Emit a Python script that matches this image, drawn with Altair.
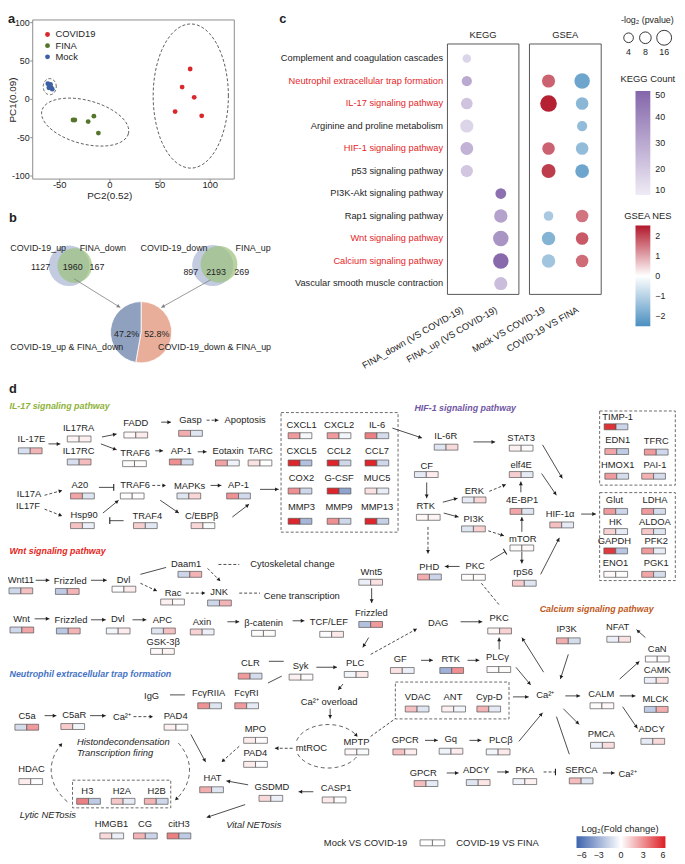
import math
import numpy as np
import pandas as pd
import altair as alt

FONT = "Liberation Sans"
W, H = 677, 856
INK = "#1e1e1e"

# ---------------- panel a : PCA ----------------
pca_group = ["COVID19"] * 5 + ["FINA"] * 5 + ["Mock"] * 6
pca_pc2 = [80.0, 72.0, 84.0, 65.0, 91.5, -36.8, -35.0, -21.7, -16.0, -11.5, -61.9, -60.2, -58.5, -57.5, -60.9, -59.2]
pca_pc1 = [39.6, 16.0, 2.6, -16.0, -21.5, -27.0, -27.0, -29.0, -22.0, -44.0, 20.3, 17.2, 15.1, 13.3, 15.1, 19.4]
pca_groups = ["COVID19", "FINA", "Mock"]
pca_xticks = [-50, 0, 50, 100]
pca_yticks = [-100, -50, 0, 50, 100]
ell_center_pc2 = [80.6, -24.7, -60.0]
ell_center_pc1 = [4.3, -29.7, 16.5]
ell_axis1 = [(37.5, 0.0), (43.1, -15.1), (6.5, 0.0)]
ell_axis2 = [(0.0, 94.0), (-5.6, -27.4), (0.0, 10.5)]
PCA_COLORS = ["#D9282B", "#54752A", "#3D5FA5"]

# ---------------- panel b : Venn + pie ----------------
venn_left_sets = ["COVID-19_up", "FINA_down"]
venn_left_counts = [1127, 1960, 167]
venn_right_sets = ["COVID-19_down", "FINA_up"]
venn_right_counts = [897, 2193, 269]
pie_labels = ["COVID-19_down & FINA_up", "COVID-19_up & FINA_down"]
pie_pct = [52.8, 47.2]

# ---------------- panel c : enrichment dot plot ----------------
pathways = ["Complement and coagulation cascades", "Neutrophil extracellular trap formation",
            "IL-17 signaling pathway", "Arginine and proline metabolism", "HIF-1 signaling pathway",
            "p53 signaling pathway", "PI3K-Akt signaling pathway", "Rap1 signaling pathway",
            "Wnt signaling pathway", "Calcium signaling pathway", "Vascular smooth muscle contraction"]
highlight = [False, True, True, False, True, False, False, False, True, True, False]
kegg_cols = ["FINA_down (VS COVID-19)", "FINA_up (VS COVID-19)"]
gsea_cols = ["Mock VS COVID-19", "COVID-19 VS FINA"]
kegg_pathway = pathways
kegg_column = [kegg_cols[0]] * 6 + [kegg_cols[1]] * 5
kegg_count = [17, 30, 22, 17, 27, 21, 47, 32, 36, 49, 24]
kegg_logp = [2.1, 5.1, 8.0, 11.4, 10.8, 9.4, 6.2, 12.1, 17.7, 17.7, 11.4]
gsea_pathway = [pathways[i] for i in [1, 2, 4, 5, 7, 8, 9]] + [pathways[i] for i in [1, 2, 3, 4, 5, 7, 8, 9]]
gsea_column = [gsea_cols[0]] * 7 + [gsea_cols[1]] * 8
gsea_nes = [1.7, 2.4, 1.7, 2.1, -1.2, -1.7, -1.3, -2.0, -1.6, -1.5, -1.5, -2.0, 1.5, 1.8, 1.6]
gsea_logp = [11.4, 21.1, 10.0, 13.6, 4.0, 12.1, 12.1, 17.7, 10.0, 5.1, 10.0, 13.0, 10.0, 10.0, 10.0]
size_legend_values = [4, 8, 16]

# ---------------- panel d : pathway map (log2 fold change) ----------------
d_genes = ["IL-17E", "IL17RA", "IL17RC", "FADD", "Gasp", "TRAF6", "AP-1", "Eotaxin", "TARC", "A20", "TRAF6",
           "MAPKs", "AP-1", "Hsp90", "TRAF4", "C/EBPβ",
           "CXCL1", "CXCL2", "IL-6", "CXCL5", "CCL2", "CCL7", "COX2", "G-CSF", "MUC5", "MMP3", "MMP9", "MMP13",
           "IL-6R", "STAT3", "CF", "elf4E", "ERK", "RTK", "4E-BP1", "PI3K", "mTOR", "HIF-1α", "rpS6", "PKC", "PHD",
           "TIMP-1", "EDN1", "TFRC", "HMOX1", "PAI-1", "Glut", "LDHA", "HK", "ALDOA", "GAPDH", "PFK2", "ENO1", "PGK1",
           "Daam1", "Wnt11", "Frizzled", "Dvl", "Rac", "JNK", "Wnt", "Frizzled", "Dvl", "APC", "GSK-3β", "Axin",
           "β-catenin", "TCF/LEF", "Wnt5", "Frizzled",
           "CLR", "Syk", "FcγRIIA", "FcγRI", "C5a", "C5aR", "PAD4", "MPO", "PAD4", "HAT", "GSDMD", "CASP1", "HDAC",
           "H3", "H2A", "H2B", "HMGB1", "CG", "citH3",
           "PKC", "IP3K", "NFAT", "CaN", "GF", "RTK", "PLCγ", "PLC", "CAMK", "MLCK", "ADCY", "CALM", "PMCA",
           "VDAC", "ANT", "Cyp-D", "MPTP", "GPCR", "Gq", "PLCβ", "GPCR", "ADCY", "PKA", "SERCA"]
d_mock = [-1.2, 0.3, -1.2, 0.2, 2.2, 0.1, 3.0, 2.5, 0.8, 2.4, 0.1, -1.0, 2.9, 1.6, 1.3, 1.1,
          2.7, 2.7, 3.4, 5.8, 5.8, 5.8, 3.0, 5.8, 0.8, 5.8, 3.0, 5.8,
          -1.0, 0.4, -0.8, 1.3, -0.8, 0.2, 2.4, -1.0, 0.1, 1.7, 1.4, 0.1, 2.2,
          5.5, 2.4, 2.7, 2.7, 2.1, 2.7, 2.7, 1.2, 1.5, 5.3, 2.7, 0.2, 2.4,
          -1.6, -1.5, -2.0, -0.1, 0.4, -1.5, -1.5, -2.1, -0.4, -1.0, 0.2, 1.2, 0.1, -0.1, -0.6, -2.4,
          2.7, 0.4, 2.9, 2.7, -1.3, 1.4, 0.4, 0.5, 0.5, 2.2, 1.0, 0.6, 0.5, 3.4, 1.5, 2.0, 1.0, 2.0, 3.4,
          0.3, 2.2, -0.6, 0.1, 0.8, -3.0, 0.1, -0.4, -0.6, -2.0, -0.8, 0.1, -0.6,
          1.7, 0.4, 2.0, 0.2, 1.7, -0.5, -0.4, 1.8, -1.0, -0.5, 1.8]
d_fina = [2.0, 0.4, 1.8, 0.5, -1.0, 0.1, -1.4, -0.5, 0.0, -1.0, 0.05, 1.1, -1.4, -0.6, -0.9, -0.2,
          -0.3, -0.4, -1.3, -2.4, -1.5, -1.5, -1.5, -3.5, -0.7, -2.8, -1.5, -1.8,
          1.0, 0.1, 0.5, -0.8, 1.1, 0.3, -1.0, 1.2, 0.2, -0.8, -1.0, 0.1, -1.6,
          -1.6, -2.0, -1.5, -1.3, -1.3, -1.6, -1.3, -0.8, -1.0, -2.2, -0.7, 0.1, -1.3,
          2.0, 1.7, 2.0, 0.5, 0.1, 2.0, 2.4, 2.0, 0.5, 1.7, 0.3, -0.6, 0.1, 0.6, 0.8, 2.7,
          -1.3, 0.1, -1.0, -0.8, 2.7, -0.4, -0.1, 0.1, -0.1, -1.0, -0.6, 0.1, -0.1, -2.0, -0.8, -1.5, -0.6, -1.6, -2.0,
          1.2, -1.3, 0.8, 0.1, -0.6, 3.0, 0.1, 0.6, 0.8, 2.2, 1.0, 0.2, 0.9,
          -1.0, -0.4, -0.8, -0.2, 0.5, 0.5, 0.6, -0.8, 0.7, 0.4, -1.0]

# ---------------- layout (page pixels): label x, label y, box x, box y ----------------
d_layout = [(31.7, 439, 30.5, 451), (79.5, 428, 80, 439), (79.5, 451.7, 80, 462.3), (137.3, 422.7, 137.3, 435),
            (192.7, 420, 192.7, 433.3), (136.7, 453.3, 136, 464), (183.3, 451.7, 183.3, 462.3),
            (230.7, 451, 230, 463.3), (263.3, 451, 263, 463.3), (80.7, 486, 83.3, 496.7),
            (136.7, 486, 133.7, 496.7), (191.7, 486.7, 191, 496.7), (241.3, 485.7, 241.3, 496.7),
            (85, 515.7, 83.3, 526.7), (149, 517.3, 147, 526.7), (204, 517.3, 205.3, 526.7),
            (305, 425, 303.5, 435.7), (343, 425, 343, 435.7), (381.5, 425, 381.3, 435.7),
            (305, 451, 303.5, 463.3), (343, 451, 343, 463.3), (381.5, 451, 381.3, 463.3),
            (305, 479, 303.5, 491.7), (343, 479, 343, 491.7), (381.5, 479, 381.3, 491.7),
            (305, 508.3, 303.5, 522.3), (343, 508.3, 343, 522.3), (381.5, 508.3, 381.3, 522.3),
            (451, 436, 451.3, 447.3), (527.3, 437.7, 527.3, 448.3), (431.7, 466, 431.3, 475),
            (527.3, 465, 527.3, 475), (480, 491.7, 479.7, 500.7), (430.7, 507, 433.3, 518.3),
            (528.3, 500.7, 528, 512.3), (479.3, 520, 479, 530), (529, 540, 528, 549.3),
            (566.7, 515, 568.3, 526), (529.3, 573.3, 530.5, 585), (480.7, 567.7, 479, 579),
            (434.3, 568.7, 434.5, 578.7),
            (625, 416.7, 623.3, 426.7), (625, 440, 624, 451.7), (664, 440.7, 664, 452.3),
            (625, 465.7, 624, 476.7), (662.7, 465.7, 661.3, 476.7), (621.7, 500.7, 623, 512.3),
            (662.7, 500.7, 661.3, 512.3), (622.7, 523.3, 623, 532.7), (662.7, 523.3, 661.3, 532.7),
            (621.7, 542.7, 623, 552.3), (664, 542.7, 661.3, 552.3), (622.7, 564.3, 623, 576),
            (664, 564.3, 661.3, 576),
            (188.3, 565.7, 192, 576), (21, 581.7, 21, 592.7), (71, 582.7, 68, 593.3), (125, 581.7, 125.3, 591),
            (175, 595, 174.5, 604), (221.7, 594.3, 222, 605), (21.7, 621.7, 22, 632.3),
            (71.7, 622.7, 69, 633.3), (119, 621.7, 119.5, 633.3), (164.3, 622.7, 165.3, 633.3),
            (165, 644.3, 164.3, 654), (204.3, 624, 204.5, 634.3), (266.7, 625.7, 266.5, 635.7),
            (332.7, 624.3, 335.5, 636.7), (375.7, 574, 375, 584), (375.7, 615, 375, 626.7),
            (253.3, 666, 253, 679), (304, 669, 304.5, 680), (211, 696, 212, 709), (249.3, 696, 249.5, 709),
            (27.3, 719, 27, 730.7), (75, 718.3, 73.5, 730), (177.7, 719, 178, 730.7),
            (258.3, 732.7, 258.5, 744), (258.3, 756.7, 258.5, 768.3), (215, 781.7, 214, 794),
            (275, 791.7, 274, 802.7), (340, 792.7, 338, 804.3), (31.7, 773.3, 31, 785.7),
            (88.3, 795, 89.5, 805.7), (123.3, 795, 124.5, 805.7), (158.3, 795, 158, 805.7),
            (112.7, 828.3, 113, 840.7), (146.7, 828.3, 147, 840.7), (181, 828.3, 181, 840.7),
            (505, 620.7, 505.5, 633.3), (573.3, 631, 575, 643.3), (625, 629.3, 626, 641.7),
            (665, 651.7, 665, 661.7), (405, 661.7, 407, 673.3), (456, 661.7, 457, 673.3),
            (503.3, 660, 504.7, 672.3), (359.3, 665.7, 360.3, 677.3), (665, 673.3, 664, 683.3),
            (663.3, 701.7, 664, 712.7), (659.3, 732.7, 660.5, 745), (608.3, 697.3, 609, 709),
            (608.3, 737.7, 609.5, 749), (422.7, 700, 422, 712.3), (458.3, 700, 459, 712.3),
            (495, 700, 494.5, 712.3), (360.7, 746, 361, 755.7), (410, 743.3, 409.5, 755.7),
            (456, 742.3, 456.3, 755), (506.7, 743.3, 504, 755.7), (428.3, 776.7, 431, 787.7),
            (481.7, 774.3, 483.8, 786.7), (531, 774.3, 531, 785.7), (588.3, 774.3, 588, 785)]

edges = [
    (49, 444, 61, 444, "arrow"), (103, 437, 118, 434, "arrow"), (102, 444, 118, 450, "arrow"),
    (163, 422, 173, 422, "arrow"), (209, 420, 221, 420, "dash_arrow"), (157, 451, 165, 451, "arrow"),
    (200, 452, 209, 452, "arrow"), (45, 496, 63, 491, "dash_arrow"), (100, 488, 115, 488, "inhibit"),
    (154, 486, 168, 486, "dash_arrow"), (213, 486, 224, 486, "arrow"), (263, 490, 282, 490, "arrow"),
    (45, 510, 63, 517, "dash_arrow"), (104, 514, 120, 501, "arrow"), (125, 521.7, 111, 521.7, "inhibit"),
    (162, 501, 181, 514, "arrow"), (235, 518, 252, 505, "arrow"),
    (397, 428, 427, 438, "arrow"), (479, 442, 501, 442, "arrow"), (549, 445, 569, 479, "arrow"),
    (431.7, 483, 431.7, 499, "arrow"), (548, 474, 563, 496, "arrow"), (495, 492, 512, 485, "dash_arrow"),
    (448, 503, 463, 499, "arrow"), (527, 493, 527, 482, "arrow"), (449, 514, 464, 518, "arrow"),
    (494, 532, 510, 537, "dash_arrow"), (528, 533, 528, 518, "arrow"), (528, 553, 528, 565, "arrow"),
    (588, 515, 603, 515, "arrow"), (547, 576, 566, 539, "arrow"), (496, 562, 511, 553, "inhibit"),
    (465, 568, 450, 568, "arrow"), (433, 528, 433, 555, "dash_arrow"), (487, 585, 506, 608, "dash"),
    (221, 566, 242, 566, "dash"), (36, 582, 50, 582, "arrow"), (92, 582, 108, 582, "arrow"),
    (142, 576, 168, 569, "line"), (142, 585, 159, 593, "dash_arrow"), (210, 570, 223, 583, "dash_arrow"),
    (188, 595, 208, 595, "dash_arrow"), (242, 595, 263, 595, "dash"), (35, 621, 50, 621, "arrow"),
    (92, 622, 107, 622, "arrow"), (134, 622, 148, 622, "arrow"), (230, 624, 242, 624, "arrow"),
    (296, 623, 308, 623, "arrow"), (376, 590, 376, 605, "arrow"), (373, 640, 367, 650, "arrow"),
    (272, 664, 287, 664, "line"), (320, 670, 341, 670, "arrow"), (271, 686, 285, 679, "line"),
    (172, 698, 187, 698, "line"), (45, 719, 57, 719, "arrow"), (91, 719, 107, 719, "arrow"),
    (135, 720, 155, 720, "dash_arrow"), (193, 738, 208, 766, "arrow"), (242, 750, 224, 766, "dash_arrow"),
    (296, 752, 278, 752, "dash_arrow"), (251, 789, 229, 785, "arrow"), (317, 796, 302, 796, "arrow"),
    (248, 809, 209, 822, "arrow"), (347, 687, 342, 693, "arrow"), (334, 712, 334, 722, "arrow"),
    (375, 740, 400, 722, "dash"),
    (375, 657, 422, 631, "dash_arrow"), (466, 624, 488, 624, "arrow"), (505, 652, 505, 640, "arrow"),
    (550, 675, 528, 640, "arrow"), (575, 657, 567, 682, "arrow"), (653, 640, 644, 632, "arrow"),
    (426, 663, 438, 663, "arrow"), (473, 663, 485, 663, "arrow"), (522, 670, 537, 688, "arrow"),
    (519, 700, 535, 700, "arrow"), (572, 699, 587, 699, "arrow"), (627, 682, 647, 664, "arrow"),
    (627, 699, 643, 699, "arrow"), (630, 710, 645, 732, "arrow"), (570, 712, 586, 728, "arrow"),
    (563, 720, 576, 758, "line"), (525, 745, 549, 716, "arrow"), (430, 744, 443, 744, "arrow"),
    (475, 744, 487, 744, "arrow"), (452, 777, 464, 777, "arrow"), (503, 776, 515, 776, "arrow"),
    (550, 776, 562, 776, "dash_inhibit"), (610, 777, 622, 777, "arrow"),
]
venn_edges = [(75, 277, 121.7, 306, "arrow"), (213, 278, 163, 306, "arrow")]

# ================= helpers =================
LX = alt.Scale(domain=[8, 8 + W], range=[0, W], nice=False, zero=False)
LY = alt.Scale(domain=[8, 8 + H], range=[0, H], nice=False, zero=False)


def ex(f="x"):
    return alt.X(f + ":Q", scale=LX, axis=None)


def ey(f="y"):
    return alt.Y(f + ":Q", scale=LY, axis=None)


def texts(rows, size=9.5, weight="normal", style="normal", align="center", color=INK, angle=0,
          baseline="middle"):
    df = pd.DataFrame(rows, columns=["x", "y", "t"])
    return alt.Chart(df).mark_text(font=FONT, fontSize=size, fontWeight=weight, fontStyle=style,
                                   align=align, baseline=baseline, color=color, angle=angle).encode(
        x=ex(), y=ey(), text="t:N")


def edge_layers(elist, color=INK, width=0.8):
    segs, heads, bars = [], [], []
    for (x1, y1, x2, y2, kind) in elist:
        L = math.hypot(x2 - x1, y2 - y1)
        ux, uy = (x2 - x1) / L, (y2 - y1) / L
        ang = math.degrees(math.atan2(y2 - y1, x2 - x1)) % 360
        segs.append(dict(x=x1, y=y1, x2=x2, y2=y2, d=kind.startswith("dash")))
        if kind.endswith("arrow"):
            heads.append(dict(x=x2 - 2.0 * ux, y=y2 - 2.0 * uy, ang=ang))
        elif kind.endswith("inhibit"):
            bars.append(dict(x=x2, y=y2, ang=(ang + 90) % 360))
    sdf = pd.DataFrame(segs)
    out = []
    solid = sdf[~sdf.d]
    dashed = sdf[sdf.d]
    if len(solid):
        out.append(alt.Chart(solid).mark_rule(color=color, strokeWidth=width).encode(
            x=ex(), y=ey(), x2="x2:Q", y2="y2:Q"))
    if len(dashed):
        out.append(alt.Chart(dashed).mark_rule(color=color, strokeWidth=width, strokeDash=[3, 2]).encode(
            x=ex(), y=ey(), x2="x2:Q", y2="y2:Q"))
    if heads:
        out.append(alt.Chart(pd.DataFrame(heads)).mark_point(shape="triangle-right", filled=True, size=16,
                                                             color=color, opacity=1).encode(
            x=ex(), y=ey(), angle=alt.Angle("ang:Q", scale=None)))
    if bars:
        out.append(alt.Chart(pd.DataFrame(bars)).mark_point(shape="stroke", filled=False, size=45,
                                                            color=color, strokeWidth=1.1, opacity=1).encode(
            x=ex(), y=ey(), angle=alt.Angle("ang:Q", scale=None)))
    return out


# ================= panel a =================
dfA = pd.DataFrame({"group": pca_group, "PC2": pca_pc2, "PC1": pca_pc1})
sxA = alt.Scale(domain=[-77, 124], range=[25, 229], nice=False, zero=False)
syA = alt.Scale(domain=[-104, 103.5], range=[168, 7], nice=False, zero=False)
ell_rows = []
for g, cx, cy, a1, a2 in zip(pca_groups, ell_center_pc2, ell_center_pc1, ell_axis1, ell_axis2):
    for k, t in enumerate(np.linspace(0, 2 * np.pi, 91)):
        ell_rows.append(dict(g=g, k=k, PC2=cx + a1[0] * np.cos(t) + a2[0] * np.sin(t),
                             PC1=cy + a1[1] * np.cos(t) + a2[1] * np.sin(t)))
ellA = alt.Chart(pd.DataFrame(ell_rows)).mark_line(color="#333", strokeWidth=0.8, strokeDash=[3, 2]).encode(
    x=alt.X("PC2:Q", scale=sxA, axis=None), y=alt.Y("PC1:Q", scale=syA, axis=None), detail="g:N", order="k:Q")
ptsA = alt.Chart(dfA).mark_circle(size=24, opacity=1).encode(
    x=alt.X("PC2:Q", scale=sxA, axis=None),
    y=alt.Y("PC1:Q", scale=syA, axis=None),
    color=alt.Color("group:N", scale=alt.Scale(domain=pca_groups, range=PCA_COLORS), legend=None))
xt = pd.DataFrame({"PC2": pca_xticks, "t": [str(v) for v in pca_xticks]})
yt = pd.DataFrame({"PC1": pca_yticks, "t": [str(v) for v in pca_yticks]})
xtick = alt.Chart(xt).mark_rule(color="#8c8c8c", strokeWidth=1).encode(
    x=alt.X("PC2:Q", scale=sxA, axis=None), y=alt.value(168), y2=alt.value(171.5))
xlab = alt.Chart(xt).mark_text(font=FONT, fontSize=9.5, color=INK, baseline="middle").encode(
    x=alt.X("PC2:Q", scale=sxA, axis=None), y=alt.value(174), text="t:N")
ytick = alt.Chart(yt).mark_rule(color="#8c8c8c", strokeWidth=1).encode(
    y=alt.Y("PC1:Q", scale=syA, axis=None), x=alt.value(22.5), x2=alt.value(25))
ylabA = alt.Chart(yt).mark_text(font=FONT, fontSize=9, color=INK, align="right", baseline="middle").encode(
    y=alt.Y("PC1:Q", scale=syA, axis=None), x=alt.value(22), text="t:N")
panelA = alt.layer(ellA, ptsA, xtick, xlab, ytick, ylabA)

# ================= panel c =================
SIZE = alt.Scale(domain=[4, 16], range=[95, 227], zero=False)
YPT = alt.Scale(type="point", domain=pathways, range=[46, 273.7], padding=0)
XK = alt.Scale(type="point", domain=kegg_cols, range=[464.3, 498.7], padding=0)
XG = alt.Scale(type="point", domain=gsea_cols, range=[547, 581], padding=0)
leg_common = dict(orient="none", title=None, direction="vertical", labelFont=FONT, labelFontSize=9,
                  labelColor=INK, gradientThickness=15, gradientStrokeWidth=0, labelOffset=5)
kegg_df = pd.DataFrame({"pathway": kegg_pathway, "col": kegg_column, "count": kegg_count, "logp": kegg_logp})
gsea_df = pd.DataFrame({"pathway": gsea_pathway, "col": gsea_column, "nes": gsea_nes, "logp": gsea_logp})
kegg_dots = alt.Chart(kegg_df).mark_circle(opacity=1).encode(
    x=alt.X("col:N", scale=XK, axis=None), y=alt.Y("pathway:N", scale=YPT, axis=None),
    fill=alt.Fill("count:Q", scale=alt.Scale(domain=[10, 50], range=["#EFEBF5", "#8466AA"], interpolate="rgb"),
                  legend=alt.Legend(legendX=635, legendY=79, gradientLength=105, values=[10, 20, 30, 40, 50],
                                    **leg_common)),
    size=alt.Size("logp:Q", scale=SIZE, legend=None))
ylab = alt.Chart(pd.DataFrame({"pathway": pathways, "hl": highlight})).mark_text(
    font=FONT, fontSize=9.4, align="right", baseline="middle").encode(
    x=alt.value(440.3), y=alt.Y("pathway:N", scale=YPT, axis=None), text="pathway:N",
    color=alt.condition("datum.hl", alt.value("#E5262A"), alt.value(INK)))
xlab_k = alt.Chart(pd.DataFrame({"col": kegg_cols})).mark_text(
    font=FONT, fontSize=9.4, align="right", baseline="middle", angle=330, dx=-5, color=INK).encode(
    x=alt.X("col:N", scale=XK, axis=None), y=alt.value(297), text="col:N")
kegg_g = alt.layer(kegg_dots, ylab, xlab_k)
gsea_dots = alt.Chart(gsea_df).mark_circle(opacity=1).encode(
    x=alt.X("col:N", scale=XG, axis=None), y=alt.Y("pathway:N", scale=YPT, axis=None),
    color=alt.Color("nes:Q", scale=alt.Scale(domain=[-2.5, 0, 2.5], range=["#4A8FC0", "#FFFFFF", "#B2182B"],
                                             interpolate="rgb"),
                    legend=alt.Legend(legendX=635, legendY=215, gradientLength=102, values=[-2, -1, 0, 1, 2],
                                      **leg_common)),
    size=alt.Size("logp:Q", scale=SIZE, legend=None))
xlab_g = alt.Chart(pd.DataFrame({"col": gsea_cols})).mark_text(
    font=FONT, fontSize=9.4, align="right", baseline="middle", angle=330, dx=-5, color=INK).encode(
    x=alt.X("col:N", scale=XG, axis=None), y=alt.value(297), text="col:N")
gsea_g = alt.layer(gsea_dots, xlab_g)
sl_df = pd.DataFrame({"v": size_legend_values, "x": [636, 653, 672], "y": [33, 33, 33],
                      "ty": [47, 47, 47], "t": [str(v) for v in size_legend_values]})
sl_pts = alt.Chart(sl_df).mark_point(shape="circle", filled=False, color=INK, strokeWidth=0.9, opacity=1).encode(
    x=ex(), y=ey(), size=alt.Size("v:Q", scale=SIZE, legend=None))
sl_txt = alt.Chart(sl_df).mark_text(font=FONT, fontSize=9, color=INK).encode(x=ex(), y=ey("ty"), text="t:N")
size_g = alt.layer(sl_pts, sl_txt)
panelC = alt.layer(kegg_g, gsea_g, size_g).resolve_scale(x="independent", y="independent")

# ================= rest (layout layers) =================
rest = []
rest.append(texts([(11.5, 8, "a"), (286, 8, "c")], size=13, weight="bold", baseline="top"))
rest.append(texts([(13, 215, "b"), (13, 388, "d")], size=13, weight="bold"))

# panel a frame, titles and legend
frameA = pd.DataFrame({"x": [33], "x2": [237], "y": [15], "y2": [176]})
rest.append(alt.Chart(frameA).mark_rect(fill="white", fillOpacity=0, stroke="#8c8c8c", strokeWidth=1).encode(
    x=ex(), x2="x2:Q", y=ey(), y2="y2:Q"))
rest.append(texts([(111, 193.5, "PC2(0.52)")], size=10))
rest.append(texts([(13.5, 96, "PC1(0.09)")], size=10, angle=270))
legA = pd.DataFrame({"x": [48, 48, 48], "y": [29.7, 41, 52.3], "c": PCA_COLORS})
rest.append(alt.Chart(legA).mark_circle(size=24, opacity=1).encode(x=ex(), y=ey(),
                                                                  color=alt.Color("c:N", scale=None)))
rest.append(texts([(56, 29.7, pca_groups[0]), (56, 41, pca_groups[1]), (56, 52.3, pca_groups[2])],
                  align="left"))

# panel b
venn_df = pd.DataFrame({"x": [69.8, 75.5, 215.2, 221.5], "y": [263.7, 263.5, 263.5, 262.3],
                        "s": [math.pi * 23.2 ** 2, math.pi * 19.8 ** 2, math.pi * 23.5 ** 2, math.pi * 21 ** 2],
                        "c": ["#C3CBE0", "#9DC07E", "#C3CBE0", "#9DC07E"], "o": [1, 0.72, 1, 0.72]})
rest.append(alt.Chart(venn_df).mark_circle().encode(
    x=ex(), y=ey(), size=alt.Size("s:Q", scale=None), color=alt.Color("c:N", scale=None),
    opacity=alt.Opacity("o:Q", scale=None)))
rest.append(texts([(38.5, 245.7, venn_left_sets[0]), (104, 245.7, venn_left_sets[1]),
                   (176, 245.7, venn_right_sets[0]), (256, 245.7, venn_right_sets[1]),
                   (41, 265, str(venn_left_counts[0])), (73.5, 265, str(venn_left_counts[1])),
                   (98, 265, str(venn_left_counts[2])), (193, 270, str(venn_right_counts[0])),
                   (218.5, 270, str(venn_right_counts[1])), (244.5, 270, str(venn_right_counts[2]))], size=9))
rest += edge_layers(venn_edges, color="#7f7f7f", width=0.8)
pie_df = pd.DataFrame({"lab": pie_labels, "pct": pie_pct, "ord": [1, 2], "c": ["#E8AE9A", "#8FA1BF"]})
rest.append(alt.Chart(pie_df).mark_arc(outerRadius=31, stroke="white", strokeWidth=0.8).encode(
    theta=alt.Theta("pct:Q", stack=True), color=alt.Color("c:N", scale=None), order=alt.Order("ord:Q"),
    x=alt.value(142.7 - 8), y=alt.value(331 - 8)))
rest.append(texts([(128, 332.5, f"{pie_pct[1]}%"), (158.5, 332.5, f"{pie_pct[0]}%"),
                   (67.5, 346, pie_labels[1]), (217, 346, pie_labels[0])], size=9))

# panel c frame / titles
boxes_c = pd.DataFrame({"x": [452.7, 535.7], "x2": [525, 608.3], "y": [39.3, 39.3], "y2": [292.7, 292.7]})
rest.append(alt.Chart(boxes_c).mark_rect(fill="white", fillOpacity=0, stroke="#555", strokeWidth=1).encode(
    x=ex(), x2="x2:Q", y=ey(), y2="y2:Q"))
rest.append(texts([(488.8, 30, "KEGG"), (572, 30, "GSEA"), (655.5, 75, "KEGG Count"),
                   (655.5, 213.3, "GSEA NES")], size=9.5))
rest.append(texts([(655, 15, "-log₂ (pvalue)")], size=9))

# panel d dashed boxes
dbox = pd.DataFrame({"x": [284.3, 606.7, 606.7, 73.3, 400], "x2": [402.7, 683.3, 683.3, 172.7, 515],
                     "y": [412.3, 410.7, 493.3, 784.3, 685], "y2": [533.3, 485.7, 582.3, 812.3, 722.3]})
rest.append(alt.Chart(dbox).mark_rect(fill="white", fillOpacity=0, stroke="#444", strokeWidth=0.8,
                                      strokeDash=[3, 2]).encode(x=ex(), x2="x2:Q", y=ey(), y2="y2:Q"))
# cycles (dashed arcs)
cyc = []


def arc_rows(cid, cx, cy, rx, ry, t0, t1):
    for k, t in enumerate(np.linspace(math.radians(t0), math.radians(t1), 40)):
        cyc.append(dict(id=cid, k=k, x=cx + rx * math.cos(t), y=cy + ry * math.sin(t)))
    t = math.radians(t1)
    tx, ty = -rx * math.sin(t), ry * math.cos(t)
    return math.degrees(math.atan2(ty, tx)) % 360, cx + rx * math.cos(t), cy + ry * math.sin(t)


heads_c = []
a, hx, hy = arc_rows("net_l", 121.7, 774, 70, 50, 140, 211); heads_c.append(dict(x=hx, y=hy, ang=a))
a, hx, hy = arc_rows("net_r", 121.7, 774, 70, 50, -33, 36); heads_c.append(dict(x=hx, y=hy, ang=a))
a, hx, hy = arc_rows("ros_u", 332, 750, 33, 22, -165, -30); heads_c.append(dict(x=hx, y=hy, ang=a))
arc_rows("ros_d", 332, 750, 33, 22, 30, 160)
rest.append(alt.Chart(pd.DataFrame(cyc)).mark_line(color="#333", strokeWidth=0.8, strokeDash=[4, 3]).encode(
    x=ex(), y=ey(), detail="id:N", order="k:Q"))
rest.append(alt.Chart(pd.DataFrame(heads_c)).mark_point(shape="triangle-right", filled=True, size=16,
                                                        color=INK, opacity=1).encode(
    x=ex(), y=ey(), angle=alt.Angle("ang:Q", scale=None)))
rest += edge_layers(edges)

# cells
FC = alt.Scale(domain=[-6, 0, 6], range=["#3E63AD", "#FFFFFF", "#DC1F24"], interpolate="rgb")
cells = []
for (lx_, ly_, bx, by), m, f in zip(d_layout, d_mock, d_fina):
    cells.append(dict(x=bx - 12, x2=bx, y=by - 3, y2=by + 3, v=m))
    cells.append(dict(x=bx, x2=bx + 12, y=by - 3, y2=by + 3, v=f))
rest.append(alt.Chart(pd.DataFrame(cells)).mark_rect(stroke="#555", strokeWidth=0.7).encode(
    x=ex(), x2="x2:Q", y=ey(), y2="y2:Q",
    fill=alt.Fill("v:Q", scale=FC, legend=alt.Legend(orient="none", legendX=575.3, legendY=833,
                                                     direction="horizontal", title=None, gradientLength=90,
                                                     gradientThickness=12, gradientStrokeWidth=0,
                                                     values=[-6, -3, 0, 3, 6], labelFont=FONT,
                                                     labelFontSize=9, labelColor=INK, labelOffset=3))))
rest.append(texts([(lx_, ly_, g) for (lx_, ly_, bx, by), g in zip(d_layout, d_genes)]))
rest.append(texts([(248, 420, "Apoptosis"), (29.3, 494.3, "IL17A"), (28.3, 507.3, "IL17F"),
                   (295.8, 565.7, "Cytoskeletal change"), (305.3, 597.7, "Cene transcription"),
                   (153.3, 699.3, "IgG"), (123.3, 720, "Ca²⁺"), (315, 751.7, "mtROC"),
                   (333, 705, "Ca²⁺ overload"), (443.3, 625.7, "DAG"), (551.7, 698.3, "Ca²⁺"),
                   (635, 778.3, "Ca²⁺"), (627.3, 833.3, "Log₂(Fold change)")]))
rest.append(texts([(77.7, 746, "Histondecondensation"), (77.7, 756.7, "Transcription firing")],
                  style="italic", align="left"))
rest.append(texts([(48.3, 819.3, "Lytic NETosis"), (256.7, 830, "Vital NETosis")], style="italic"))
rest.append(texts([(9.5, 406, "IL-17 signaling pathway")], size=9, weight="bold", style="italic", align="left",
                  color="#8DB33A"))
rest.append(texts([(419.3, 407.7, "HIF-1 signaling pathway")], size=9, weight="bold", style="italic",
                  align="left", color="#7156A3"))
rest.append(texts([(9.5, 552.7, "Wnt signaling pathway")], size=9, weight="bold", style="italic", align="left",
                  color="#E52421"))
rest.append(texts([(9.5, 677.3, "Neutrophil extracellular trap formation")], size=9, weight="bold",
                  style="italic", align="left", color="#4472C4"))
rest.append(texts([(546, 611, "Calcium signaling pathway")], size=9, weight="bold", style="italic",
                  align="left", color="#C0581B"))
# bottom legend
leg_cells = pd.DataFrame({"x": [425, 437.5], "x2": [437.5, 450], "y": [844.7, 844.7], "y2": [850.7, 850.7]})
rest.append(alt.Chart(leg_cells).mark_rect(fill="white", stroke="#555", strokeWidth=0.7).encode(
    x=ex(), x2="x2:Q", y=ey(), y2="y2:Q"))
rest.append(texts([(412, 847.7, "Mock VS COVID-19")], align="right"))
rest.append(texts([(461.7, 847.7, "COVID-19 VS FINA")], align="left"))

restL = alt.layer(*rest)

chart = alt.layer(panelA, panelC, restL).resolve_scale(
    x="independent", y="independent", color="independent", fill="independent", size="independent"
).properties(width=W, height=H, padding=0, autosize=alt.AutoSizeParams(type="none")).configure_view(stroke=None)

chart.save("out.html", embed_options={"renderer": "svg", "actions": False})
